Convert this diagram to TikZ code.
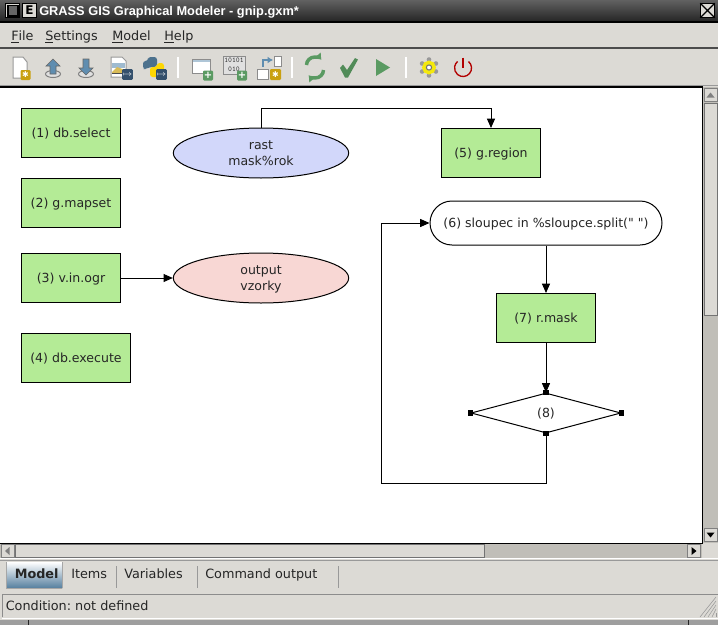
\documentclass[tikz,border=0pt]{standalone}
\usepackage{fontspec}
\setmainfont{DejaVu Sans}
\newfontfamily\titlefont{Liberation Sans}
\newfontfamily\labelfont{DejaVu Sans}
\usetikzlibrary{shapes.geometric,arrows.meta}
\definecolor{panelgrey}{HTML}{DCDAD5}
\definecolor{troughgrey}{HTML}{C0BEB8}
\definecolor{taskgreen}{HTML}{B4EB96}
\definecolor{datablue}{HTML}{D2D7FA}
\definecolor{datared}{HTML}{F8D7D4}
\definecolor{iconblue}{HTML}{5F8DB0}
\definecolor{icongreen}{HTML}{5A9A62}
\definecolor{badgeyellow}{HTML}{C9A010}
\definecolor{badgenavy}{HTML}{34506C}
\begin{document}
\frenchspacing
\begin{tikzpicture}
[x=0.75pt,y=-0.75pt,
  taskdecorate/.style={shape=rectangle,draw,line width=0.75pt,fill=taskgreen,text=black!85,inner sep=0pt,minimum height=36.75pt,text height=8.5pt,text depth=2.5pt,font=\fontsize{9.4}{11}\selectfont},%
  datadecorate/.style={shape=ellipse,draw,line width=0.75pt,text=black!85,inner sep=0pt,minimum width=131.5pt,minimum height=37.5pt,align=center,text depth=0pt,font=\fontsize{9.4}{12}\selectfont},%
  loopdecorate/.style={shape=rectangle,rounded corners=16.5pt,draw,line width=0.75pt,fill=white,text=black!85,inner sep=0pt,minimum width=174pt,minimum height=33pt,text height=8.5pt,text depth=2.5pt,font=\labelfont\fontsize{9.4}{11}\selectfont},%
  conddecorate/.style={shape=diamond,draw,line width=0.75pt,fill=white,text=black!85,inner sep=0pt,shape aspect=3.75,minimum width=112.5pt,minimum height=30pt,text height=8.5pt,text depth=2.5pt,font=\fontsize{9.4}{11}\selectfont},%
  linedecorate/.style={-{Triangle[length=7pt,width=6pt]},line width=0.75pt},%
  handledecorate/.style={shape=rectangle,fill=black,inner sep=0pt,minimum size=4.2pt},%
  guidecorate/.style={anchor=base west,inner sep=0pt,text=black!85,font=\fontsize{9.6}{11}\selectfont},%
  raisedecorate/.style={draw=black!55,fill=panelgrey,line width=0.6pt},%
  sepdecorate/.style={draw=white,line width=0.9pt},%
  badgedecorate/.style={rounded corners=0.8pt,draw=none}]
\useasboundingbox (0,0) rectangle (718,625);
%% window
\fill[panelgrey] (0,0) rectangle (718,625);
\shade[top color=black!62,bottom color=black!85] (0,0) rectangle (718,21);
\fill[black] (0,21) rectangle (718,23);
\fill[black!70] (0,47) rectangle (718,49);
\draw[black!40] (0,85.5) -- (718,85.5);
\node[anchor=base west,inner sep=0pt,text=white,font=\titlefont\bfseries\fontsize{9.6}{11}\selectfont] (title) at (39,15) {GRASS GIS Graphical Modeler - gnip.gxm*};
%% title buttons
\foreach \btnname/\x in {btnmenu/5, btnsize/22, btnclose/700} {
  \node (\btnname) at (\x+7.5,10.5) [shape=rectangle,draw=black,fill=panelgrey,inner sep=0pt,minimum size=10.5pt] {};
}
\draw[line width=0.8pt,fill=black!60] (8,5.5) rectangle (18,16);
\node[inner sep=0pt,font=\bfseries\fontsize{9}{10}\selectfont] (btnletter) at (btnsize) {E};
\draw[line width=0.9pt] (btnclose.south west) -- (btnclose.north east) (btnclose.north west) -- (btnclose.south east);
%% menu
\foreach \menuname/\x/\menutext in {menufile/11/\underline{F}ile, menusettings/45/\underline{S}ettings,
  menumodel/112/\underline{M}odel, menuhelp/164/\underline{H}elp} {
  \node (\menuname) at (\x,40) [guidecorate] {\menutext};
}
%% toolbar separators
\foreach \x in {178,292,406} {
  \draw[sepdecorate] (\x,57) -- (\x,78);
}
%% new file
\draw[black!40,fill=white,line width=0.75pt] (13,57) -- (23,57) -- (27,62) -- (27,78) -- (13,78) -- cycle;
\fill[badgedecorate,fill=badgeyellow] (20.5,70) rectangle (30.5,80);
\node[inner sep=0pt,text=white,font=\fontsize{6}{6}\selectfont] (newstar) at (25.5,75) {✱};
%% load and save
\draw[black!50,fill=black!12,line width=0.75pt] (53,74) ellipse (7.5 and 3.5);
\draw[black!50,fill=black!12,line width=0.75pt] (86,74) ellipse (7.5 and 3.5);
\draw[black!60,fill=iconblue,line width=0.5pt] (53,59) -- (60,66) -- (56,66) -- (56,74) -- (50,74) -- (50,66) -- (46,66) -- cycle;
\draw[black!60,fill=iconblue,line width=0.5pt] (86,75) -- (93,68) -- (89,68) -- (89,59) -- (83,59) -- (83,68) -- (79,68) -- cycle;
%% export image
\draw[black!40,fill=white,line width=0.75pt] (111,57) -- (122,57) -- (126,61) -- (126,77) -- (111,77) -- cycle;
\fill[iconblue!60] (112,63) rectangle (125,68);
\fill[badgeyellow!70] (112,72) -- (117,67) -- (125,70) -- (125,73) -- (112,73) -- cycle;
\fill[black!70] (112,73) rectangle (125,74);
%% python
\fill[rounded corners=2pt,fill=iconblue!80!black] (146,69) -- (143,69) -- (143,61) -- (148,61) -- (148,57) -- (157,57) -- (157,67) -- (150,67) -- cycle;
\fill[rounded corners=2pt,fill=yellow!75!orange] (150,67) -- (157,67) -- (157,63) -- (164,63) -- (164,72) -- (159,72) -- (159,77) -- (150,77) -- cycle;
%% export badges
\foreach \badgename/\x in {badgeimage/127.5, badgepython/161.5} {
  \node (\badgename) at (\x,74.5) [shape=rectangle,fill=badgenavy,rounded corners=0.8pt,inner sep=0pt,minimum size=8pt,text=white,font=\fontsize{6}{6}\selectfont] {$\mapsto$};
}
%% add action
\draw[black!45,fill=white,line width=0.75pt] (192,59) rectangle (210,73);
\fill[iconblue!50] (192.5,59.5) rectangle (209.5,62);
\draw[black!45,fill=black!12,line width=0.6pt] (223,56) rectangle (245,74);
\node[inner sep=0pt,text=black!80,align=center,font=\ttfamily\fontsize{5.5}{6.5}\selectfont] (addbits) at (234,64.5) {10101\\010};
%% add relation
\draw[black!45,fill=white,line width=0.75pt] (257,69) rectangle (268,79);
\draw[black!45,fill=white,line width=0.75pt] (274,56) rectangle (281,66);
\draw[iconblue,line width=1.6pt,-{Latex[length=4pt,width=5pt]}] (263,67) -- (263,60) -- (273,60);
\fill[badgedecorate,fill=badgeyellow] (270,69) rectangle (281,80);
\node[inner sep=0pt,text=white,font=\fontsize{6}{6}\selectfont] (relstar) at (275.5,74.5) {✱};
%% green plus badges
\foreach \badgename/\x in {badgeaction/208, badgedata/242} {
  \node (\badgename) at (\x,75.5) [shape=rectangle,fill=icongreen,rounded corners=0.8pt,inner sep=0pt,minimum size=7.5pt,text=white,font=\bfseries\fontsize{7.5}{7.5}\selectfont] {+};
}
%% redraw, validate, run
\draw[icongreen,line width=2.6pt,-{Latex[length=4.5pt,width=7pt]}] (306.5,65) arc[start angle=180,end angle=320,x radius=8.5,y radius=8];
\draw[icongreen,line width=2.6pt,-{Latex[length=4.5pt,width=7pt]}] (323.5,70) arc[start angle=0,end angle=140,x radius=8.5,y radius=8];
\fill[icongreen!90!black] (340,68) -- (343,64.5) -- (347,70) -- (355,58) -- (358,59.5) -- (348,77.5) -- (345,77.5) -- cycle;
\fill[icongreen] (376,59) -- (390,67.5) -- (376,76) -- cycle;
%% settings gear and quit
\foreach \a in {30,90,...,330} {
  \fill[black!40] (429,67.5) ++(\a:8) circle (2.3);
}
\draw[yellow!95!black,line width=2.8pt,fill=white] (429,67.5) circle (5);
\draw[black!55,line width=0.8pt] (429,67.5) circle (2.6);
\draw[red!70!black,line width=1pt] (468.5,61.5) arc[start angle=-50,end angle=230,radius=8.5];
\draw[red!70!black,line width=1pt] (463,57.5) -- (463,68);
%% canvas
\fill[white] (0,87) rectangle (702,543);
\draw[black,line width=0.8pt] (0,87) -- (702.5,87) -- (702.5,543.5) -- (0,543.5);
%% scrollbars
\fill[troughgrey] (703,87) rectangle (718,543);
\fill[troughgrey] (0,544) rectangle (702,558);
\draw[raisedecorate] (704,103) rectangle (717,315);
\draw[raisedecorate] (15,544) rectangle (484,557.5);
\foreach \barname/\x/\y in {barup/710.5/95, bardown/710.5/535, barleft/8/551, barright/693.5/551} {
  \node (\barname) at (\x,\y) [shape=rectangle,draw=black!50,fill=panelgrey,inner sep=0pt,minimum size=9.5pt] {};
}
\fill[black!50] (706.5,97.5) -- (714.5,97.5) -- (710.5,92.5) -- cycle;
\fill[black] (706.5,532.5) -- (714.5,532.5) -- (710.5,537.5) -- cycle;
\fill[black!50] (9.5,547) -- (9.5,555) -- (5,551) -- cycle;
\fill[black] (691.5,547) -- (691.5,555) -- (696.5,551) -- cycle;
\fill[panelgrey] (703,544) rectangle (718,558);
\fill[white] (0,558) rectangle (718,559);
\draw[black!40] (0,560.5) -- (718,560.5);
%% notebook tabs
\shade[top color=white,bottom color=iconblue!90!black] (6,562) rectangle (62,588);
\draw[black!35] (6,588) -- (6,562) (62,562) -- (62,588) (6,588) -- (62,588);
\foreach \tabname/\x/\tabtext in {tabitems/71/Items, tabvariables/124/Variables, tabcommand/205/Command output} {
  \node (\tabname) at (\x,578) [guidecorate] {\tabtext};
}
\node[guidecorate,font=\bfseries\fontsize{9.6}{11}\selectfont] (tabmodel) at (14.5,578) {Model};
\foreach \x in {116.5,197.5,338.5} {
  \draw[black!40] (\x,566) -- (\x,588);
}
%% status bar
\draw[black!45] (2.5,617) -- (2.5,594.5) -- (718,594.5);
\draw[white] (2,618.5) -- (718,618.5);
\node[guidecorate] (status) at (5.5,610) {Condition: not defined};
\foreach \d in {0,4,8,12,16} {
  \draw[black!40] (716-\d,617) -- (716,617-\d-4);
}
\fill[black!38] (0,620) rectangle (718,625);
\draw[black!85] (28.5,620) -- (28.5,625) (688.5,620) -- (688.5,625);
%% nodes or vertices
\foreach \nodename/\x/\y/\w/\nodetext in {select/71/133/74.25/(1) db.select, mapset/71/203/74.25/(2) g.mapset,
  ogr/71/278/74.25/(3) v.in.ogr, execute/76/358/81.75/(4) db.execute, region/491/153/74.25/(5) g.region,
  mask/546/318/74.25/(7) r.mask} {
  \node (\nodename) at (\x,\y) [taskdecorate,minimum width=\w pt] {\nodetext};
}
\foreach \nodename/\nodefill/\y/\nodetext in {rast/datablue/153/rast\\mask\%rok, vzorky/datared/278/output\\vzorky} {
  \node (\nodename) at (261,\y) [datadecorate,fill=\nodefill] {\nodetext};
}
\node (sloupec) at (546,223) [loopdecorate] {(6) sloupec in \%sloupce.split(" ")};
\node (cond) at (546,413) [conddecorate] {(8)};
\coordinate (overrast) at (261,108);
\coordinate (underloop) at (546,483);
\coordinate (backloop) at (381,483);
%% edges or lines
\draw[linedecorate] (rast.north) -- (overrast) -| (region.north);
\draw[linedecorate] (ogr) -- (vzorky);
\draw[linedecorate] (sloupec) -- (mask);
\draw[linedecorate] (mask) -- (cond.north);
\draw[linedecorate] (cond.south) -- (underloop) -- (backloop) |- (sloupec.west);
%% handles of the condition
\foreach \handlename/\anchorname in {handletop/north, handleleft/west, handleright/east, handlebottom/south} {
  \node (\handlename) at (cond.\anchorname) [handledecorate] {};
}
\end{tikzpicture}
\end{document}
